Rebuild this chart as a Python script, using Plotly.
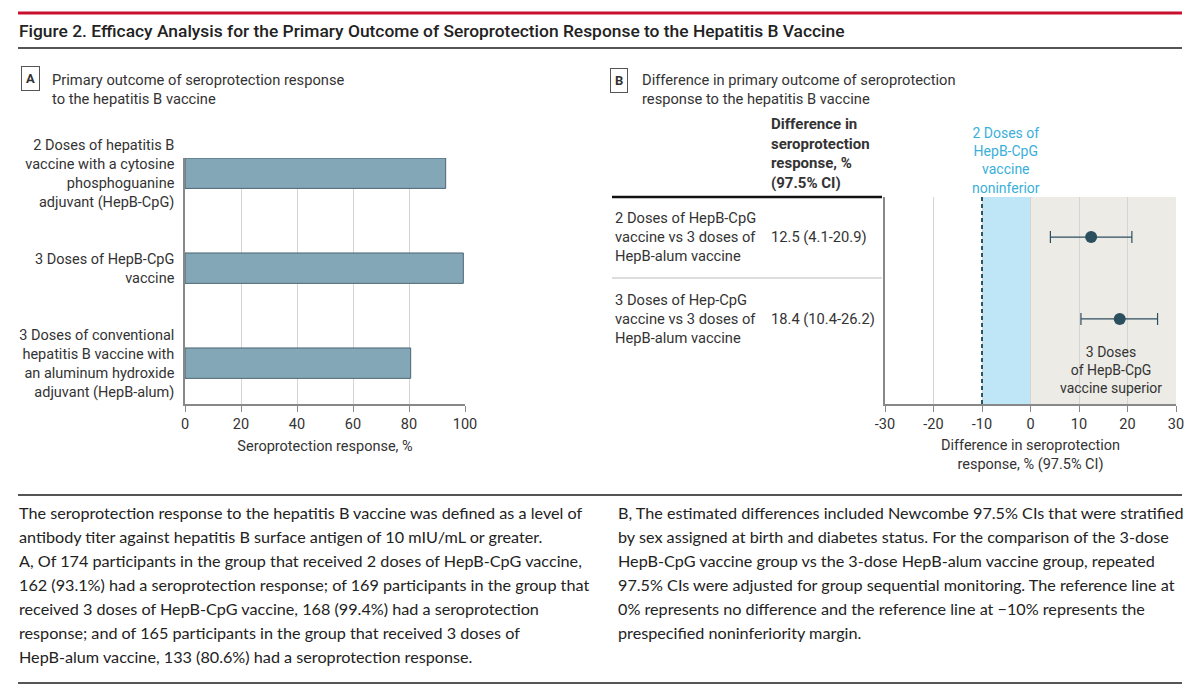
import plotly.graph_objects as go

W, H = 1200, 692
# the page body has an 8px margin, so screen pixels are shifted by that
OFF = 8


def px(x):
    return (x - OFF) / W


def py(y):
    return 1 - (y - OFF) / H


# Panel A: seroprotection response by group
groups_a = [
    "2 Doses of hepatitis B<br>vaccine with a cytosine<br>phosphoguanine<br>adjuvant (HepB-CpG)",
    "3 Doses of HepB-CpG<br>vaccine",
    "3 Doses of conventional<br>hepatitis B vaccine with<br>an aluminum hydroxide<br>adjuvant (HepB-alum)",
]
response_pct = [93.1, 99.4, 80.6]
ticks_a = [0, 20, 40, 60, 80, 100]

# Panel B: differences vs HepB-alum
comparisons = [
    "2 Doses of HepB-CpG<br>vaccine vs 3 doses of<br>HepB-alum vaccine",
    "3 Doses of Hep-CpG<br>vaccine vs 3 doses of<br>HepB-alum vaccine",
]
diff = [12.5, 18.4]
ci_low = [4.1, 10.4]
ci_high = [20.9, 26.2]
ticks_b = [-30, -20, -10, 0, 10, 20, 30]
noninf_margin = -10
no_diff = 0

caption_left = [
    "The seroprotection response to the hepatitis B vaccine was defined as a level of",
    "antibody titer against hepatitis B surface antigen of 10 mIU/mL or greater.",
    "A, Of 174 participants in the group that received 2 doses of HepB-CpG vaccine,",
    "162 (93.1%) had a seroprotection response; of 169 participants in the group that",
    "received 3 doses of HepB-CpG vaccine, 168 (99.4%) had a seroprotection",
    "response; and of 165 participants in the group that received 3 doses of",
    "HepB-alum vaccine, 133 (80.6%) had a seroprotection response.",
]
caption_right = [
    "B, The estimated differences included Newcombe 97.5% CIs that were stratified",
    "by sex assigned at birth and diabetes status. For the comparison of the 3-dose",
    "HepB-CpG vaccine group vs the 3-dose HepB-alum vaccine group, repeated",
    "97.5% CIs were adjusted for group sequential monitoring. The reference line at",
    "0% represents no difference and the reference line at \u221210% represents the",
    "prespecified noninferiority margin.",
]

FONT = "Roboto, sans-serif"
TEXT_FONT = "Lato, Open Sans, sans-serif"
DARK = "#2c4f5f"
GREY = "#333333"

fig = go.Figure()

rows_a = list(range(len(groups_a)))
fig.add_trace(go.Bar(
    x=response_pct, y=rows_a, orientation="h", width=0.32,
    marker=dict(color="#83a7b7", line=dict(color="#4b6572", width=1)),
    xaxis="x", yaxis="y", showlegend=False,
))

rows_b = list(range(len(comparisons)))
fig.add_trace(go.Scatter(
    x=diff, y=rows_b, mode="markers",
    marker=dict(color=DARK, size=12),
    error_x=dict(
        type="data", symmetric=False,
        array=[h - d for h, d in zip(ci_high, diff)],
        arrayminus=[d - l for d, l in zip(diff, ci_low)],
        color=DARK, thickness=1.2, width=6,
    ),
    xaxis="x2", yaxis="y2", showlegend=False,
))

tickfont = dict(family=FONT, size=14.5, color=GREY)

fig.update_layout(
    width=W, height=H,
    margin=dict(l=0, r=0, t=0, b=0, autoexpand=False),
    paper_bgcolor="white", plot_bgcolor="white",
    font=dict(family=FONT, color=GREY),
    xaxis=dict(
        domain=[px(185), px(465)], range=[0, 100], tickvals=ticks_a,
        showgrid=True, gridcolor="#d4d4d4", zeroline=False,
        showline=True, linecolor="#888", linewidth=1.5,
        ticks="outside", ticklen=6, tickcolor="#888",
        tickfont=tickfont, anchor="y", automargin=False,
        title=dict(text="Seroprotection response, %", font=dict(family=FONT, size=14.5, color=GREY), standoff=9),
    ),
    yaxis=dict(
        domain=[py(404), py(158)], range=[2.43, -0.16],
        tickvals=rows_a, ticktext=groups_a, tickfont=tickfont,
        showgrid=False, zeroline=False, showline=True, linecolor="#888", linewidth=1.5,
        ticks="", ticklabelstandoff=6, anchor="x", automargin=False,
    ),
    xaxis2=dict(
        domain=[px(885), px(1176)], range=[-30, 30],
        tickvals=ticks_b, ticktext=[str(t) for t in ticks_b],
        showgrid=True, gridcolor="#d4d4d4", zeroline=False,
        showline=True, linecolor="#888", linewidth=1.5,
        ticks="outside", ticklen=6, tickcolor="#888",
        tickfont=tickfont, anchor="y2", automargin=False,
        title=dict(text="Difference in seroprotection<br>response, % (97.5% CI)",
                   font=dict(family=FONT, size=14.5, color=GREY), standoff=8),
    ),
    yaxis2=dict(
        domain=[py(404), py(197)], range=[2.04, -0.49],
        showticklabels=False, showgrid=False, zeroline=False, automargin=False,
        showline=True, linecolor="#888", linewidth=1.5, anchor="x2",
    ),
)

# shaded regions and reference line in panel B
fig.add_shape(type="rect", xref="x2", yref="y2 domain", x0=noninf_margin, x1=no_diff, y0=0, y1=1,
              fillcolor="#bfe6f7", line_width=0, layer="below")
fig.add_shape(type="rect", xref="x2", yref="y2 domain", x0=no_diff, x1=ticks_b[-1], y0=0, y1=1,
              fillcolor="#ecebe6", line_width=0, layer="below")
fig.add_shape(type="line", xref="x2", yref="y2 domain", x0=noninf_margin, x1=noninf_margin, y0=0, y1=1,
              line=dict(color="#2d5566", width=2, dash="4px,3px"))

# frame rules
fig.add_shape(type="line", xref="paper", yref="paper", x0=px(18), x1=px(1182), y0=py(13), y1=py(13),
              line=dict(color="#c8102e", width=3))
for yy in (48, 495, 683):
    fig.add_shape(type="line", xref="paper", yref="paper", x0=px(18), x1=px(1182), y0=py(yy), y1=py(yy),
                  line=dict(color="#555", width=2))

# table rules in panel B
fig.add_shape(type="line", xref="paper", yref="paper", x0=px(612), x1=px(882), y0=py(197), y1=py(197),
              line=dict(color="#111", width=2.5))
fig.add_shape(type="line", xref="paper", yref="y2", x0=px(612), x1=px(882), y0=0.5, y1=0.5,
              line=dict(color="#bbb", width=1))


def note(text, x, y, size=14, color=GREY, xanchor="left", yanchor="middle", align="left", family=FONT, **kw):
    fig.add_annotation(text=text, x=x, y=y, xref=kw.pop("xref", "paper"), yref=kw.pop("yref", "paper"),
                       xanchor=xanchor, yanchor=yanchor, align=align, showarrow=False,
                       font=dict(family=family, size=size, color=color, weight=kw.pop("weight", 400)), **kw)


note("Figure 2. Efficacy Analysis for the Primary Outcome of Seroprotection Response to the Hepatitis B Vaccine",
     px(17), py(31), size=17.4, color="#222", weight=500)

# panel labels
note("<b>A</b>", px(30), py(78), size=13, xanchor="center", bordercolor="#555", borderwidth=1, borderpad=4)
note("Primary outcome of seroprotection response<br>to the hepatitis B vaccine", px(50), py(89), size=14.7)
note("<b>B</b>", px(619), py(80), size=13, xanchor="center", bordercolor="#555", borderwidth=1, borderpad=4)
note("Difference in primary outcome of seroprotection<br>response to the hepatitis B vaccine", px(640), py(90), size=14.7)

# table in panel B
note("<b>Difference in<br>seroprotection<br>response, %<br>(97.5% CI)</b>", px(769), py(194), size=15, yanchor="bottom")
for i, label in enumerate(comparisons):
    note(label, px(613), i, size=14.7, yref="y2")
    note(f"{diff[i]} ({ci_low[i]}-{ci_high[i]})", px(769), i, size=14.7, yref="y2")

note("2 Doses of<br>HepB-CpG<br>vaccine<br>noninferior", -5, py(160), size=14, color="#3ab0d9",
     xanchor="center", align="center", xref="x2")
note("3 Doses<br>of HepB-CpG<br>vaccine superior", 16.5, py(370), size=14,
     xanchor="center", align="center", xref="x2")

# captions
for i, line in enumerate(caption_left):
    note(line, px(17), py(512 + 24.1 * i), size=16.2, family=TEXT_FONT, color="#222")
for i, line in enumerate(caption_right):
    note(line, px(616), py(512 + 24.1 * i), size=16.2, family=TEXT_FONT, color="#222")

fig.write_html("out.html")
